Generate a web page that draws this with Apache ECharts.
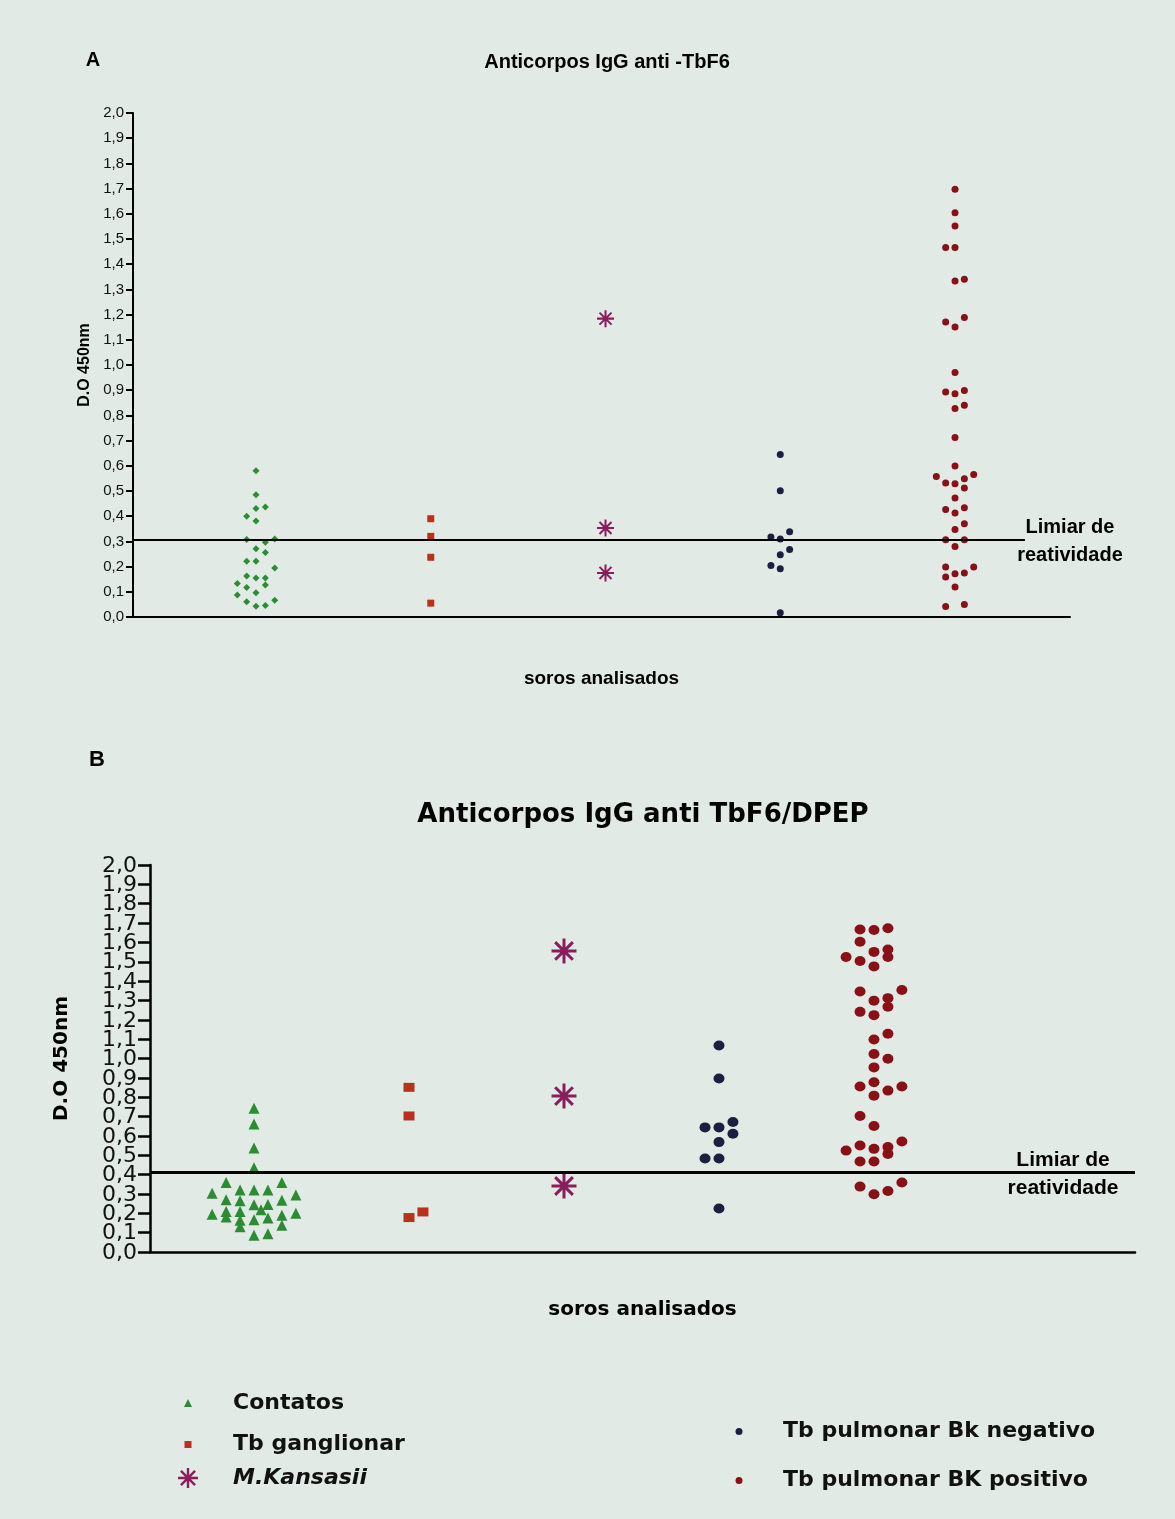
<!DOCTYPE html>
<html><head><meta charset="utf-8">
<script src="https://cdn.jsdelivr.net/npm/echarts@6/dist/echarts.min.js"></script>
<style>html,body{margin:0;padding:0;background:#e2eae6}#c{width:1175px;height:1519px}</style>
</head><body><div id="c"></div>
<script>
// ---- Data ----
const categories = ['Contatos', 'Tb ganglionar', 'M.Kansasii', 'Tb pulmonar Bk negativo', 'Tb pulmonar BK positivo'];
const yTicks = [0, 2.0, 0.1]; // min, max, step
const yTickValuesB = [0,0.1,0.2,0.3,0.4,0.5,0.6,0.7,0.8,0.9,1.0,1.1,1.2,1.3,1.4,1.5,1.6,1.7,1.8,1.9,2.0];
const thresholdA = 0.306;
const thresholdB = 0.405;

// Panel A (IgG anti-TbF6): values and beeswarm column index
const contatosA = [0.58,0.485,0.431,0.437,0.40,0.381,0.308,0.297,0.31,0.271,0.256,0.221,0.221,0.194,0.163,0.155,0.155,0.133,0.117,0.127,0.087,0.096,0.061,0.066,0.043,0.046];
const contatosAcol = [0,0,0,1,-1,0,-1,1,2,0,1,-1,0,2,-1,0,1,-2,-1,1,-2,0,-1,2,0,1];
const ganglionarA = [0.39,0.32,0.237,0.055];
const kansasiiA = [1.184,0.353,0.175];
const negativoA = [0.645,0.501,0.338,0.317,0.31,0.268,0.247,0.204,0.191,0.017];
const negativoAcol = [0,0,1,-1,0,1,0,-1,0,0];
const positivoA = [1.697,1.604,1.552,1.466,1.466,1.333,1.34,1.171,1.151,1.188,0.97,0.893,0.886,0.899,0.827,0.84,0.712,0.599,0.558,0.532,0.529,0.549,0.512,0.565,0.472,0.427,0.413,0.434,0.37,0.347,0.307,0.307,0.28,0.198,0.172,0.159,0.175,0.198,0.119,0.042,0.05];
const positivoAcol = [0,0,0,-1,0,0,1,-1,0,1,0,-1,0,1,0,1,0,0,-2,-1,0,1,1,2,0,-1,0,1,1,0,-1,1,0,-1,0,-1,1,2,0,-1,1];

// Panel B (IgG anti TbF6/DPEP)
const contatosB = [0.743,0.661,0.538,0.435,0.359,0.359,0.32,0.32,0.32,0.303,0.294,0.27,0.265,0.268,0.244,0.245,0.218,0.209,0.209,0.195,0.2,0.181,0.164,0.167,0.176,0.19,0.131,0.138,0.087,0.094];
const contatosBcol = [0,0,0,0,-2,2,-1,0,1,-3,3,-2,-1,2,0,1,0.5,-2,-1,-3,3,-2,-1,0,1,2,-1,2,0,1];
const ganglionarB = [0.851,0.703,0.178,0.207];
const ganglionarBcol = [0,0,0,1];
const kansasiiB = [1.556,0.806,0.341];
const negativoB = [1.067,0.897,0.672,0.644,0.644,0.611,0.568,0.483,0.483,0.225];
const negativoBcol = [0,0,1,-1,0,1,0,-1,0,0];
const positivoB = [1.667,1.664,1.673,1.603,1.551,1.563,1.525,1.525,1.504,1.476,1.346,1.354,1.299,1.312,1.267,1.241,1.224,1.128,1.098,1.023,0.999,0.954,0.877,0.855,0.834,0.855,0.808,0.703,0.651,0.55,0.524,0.533,0.542,0.507,0.571,0.468,0.468,0.338,0.298,0.315,0.359];
const positivoBcol = [-1,0,1,-1,0,1,1,-2,-1,0,-1,2,0,1,1,-1,0,1,0,0,1,0,0,-1,1,2,0,-1,0,-1,-2,0,1,1,2,-1,0,-1,0,1,2];

// ---- Styling ----
const colors = ['#2c8c34', '#b8301e', '#8a1d5c', '#1c2040', '#8a1018'];
const STAR = 'path://M-1.2,-10L1.2,-10L1.2,10L-1.2,10ZM-10,-1.2L10,-1.2L10,1.2L-10,1.2ZM-7.92,-6.22L-6.22,-7.92L7.92,6.22L6.22,7.92ZM-6.22,7.92L-7.92,6.22L6.22,-7.92L7.92,-6.22Z';
const stepA = 0.0535, stepB = 0.09;
const xA = {min: 0.296, max: 5.658};
const xB = {min: 0.329, max: 6.684};

function pts(group, vals, cols, step) {
  return vals.map((v, i) => [group + (cols ? cols[i] : 0) * step, v]);
}
const fmt = v => v.toFixed(1).replace('.', ',');
const FA = 'Liberation Sans';
const FB = 'DejaVu Sans';

const chart = echarts.init(document.getElementById('c'));
function sc(name, xi, data, symbol, size, ci, extra) {
  return Object.assign({
    type: 'scatter', name: name, xAxisIndex: xi, yAxisIndex: xi, data: data,
    symbol: symbol, symbolSize: size, itemStyle: {color: colors[ci], opacity: 1},
    emphasis: {disabled: true}, silent: true, z: 3
  }, extra || {});
}
const lineStyle = {color: '#000', width: 2, type: 'solid'};

// legend item: icon centred at cx, text starting at tx, vertically centred at cy
function leg(name, icon, size, cx, tx, cy, italic) {
  const ts = {fontFamily: FB, fontWeight: 'bold', fontSize: 22, color: '#111', padding: [0, 0, 0, tx - cx - size / 2 - 5]};
  const o = {
    orient: 'vertical', selectedMode: false, padding: 0,
    data: [{name: name, icon: icon}], left: cx - size / 2, top: cy - size / 2 - 4,
    itemWidth: size, itemHeight: size, textStyle: ts
  };
  if (italic) {
    o.formatter = n => '{i|' + n + '}';
    ts.rich = {i: {fontFamily: FB, fontStyle: 'italic', fontWeight: 'bold', fontSize: 22, color: '#111'}};
  }
  return o;
}

chart.setOption({
  backgroundColor: '#e2eae6',
  animation: false,
  grid: [
    {left: 133, top: 113, width: 937, height: 504},
    {left: 150, top: 865, width: 985, height: 387}
  ],
  xAxis: [
    {type: 'value', gridIndex: 0, min: xA.min, max: xA.max, splitLine: {show: false},
     axisTick: {show: false}, axisLabel: {show: false},
     axisLine: {onZero: false, lineStyle: {color: '#000', width: 2}},
     name: 'soros analisados', nameLocation: 'middle', nameGap: 52,
     nameTextStyle: {fontFamily: FA, fontWeight: 'bold', fontSize: 19, color: '#000'}},
    {type: 'value', gridIndex: 1, min: xB.min, max: xB.max, splitLine: {show: false},
     axisTick: {show: false}, axisLabel: {show: false},
     axisLine: {onZero: false, lineStyle: {color: '#000', width: 2.5}},
     name: 'soros analisados', nameLocation: 'middle', nameGap: 48,
     nameTextStyle: {fontFamily: FB, fontWeight: 'bold', fontSize: 20, color: '#000'}}
  ],
  yAxis: [
    {type: 'value', gridIndex: 0, min: yTicks[0], max: yTicks[1], interval: yTicks[2],
     splitLine: {show: false},
     axisLine: {show: true, lineStyle: {color: '#000', width: 2}},
     axisTick: {show: true, length: 7, lineStyle: {color: '#000', width: 2}},
     axisLabel: {formatter: fmt, margin: 9, fontFamily: FA, fontSize: 15, color: '#111', showMinLabel: true, showMaxLabel: true},
     name: 'D.O 450nm', nameLocation: 'middle', nameGap: 20, nameRotate: 90,
     nameTextStyle: {fontFamily: FA, fontWeight: 'bold', fontSize: 16, color: '#000'}},
    {type: 'value', gridIndex: 1, min: yTicks[0], max: yTicks[1], interval: yTicks[2],
     splitLine: {show: false},
     axisLine: {show: true, lineStyle: {color: '#000', width: 2.5}},
     axisTick: {show: true, length: 12, lineStyle: {color: '#000', width: 2.5}},
     axisLabel: {show: false},
     name: 'D.O 450nm', nameLocation: 'middle', nameGap: 78, nameRotate: 90,
     nameTextStyle: {fontFamily: FB, fontWeight: 'bold', fontSize: 20, color: '#000'}}
  ],
  legend: [
    leg(categories[0], 'triangle', 8, 188, 233, 1400),
    leg(categories[1], 'rect', 7, 188, 233, 1441),
    leg(categories[2], STAR, 20, 188, 233, 1481, true),
    leg(categories[3], 'circle', 7, 739, 783, 1428),
    leg(categories[4], 'circle', 7, 739, 783, 1477)
  ],
  series: [
    sc(categories[0], 0, pts(1, contatosA, contatosAcol, stepA), 'diamond', 7, 0, {
      markLine: {silent: true, symbol: 'none', lineStyle: lineStyle, label: {show: false},
        data: [[{coord: [xA.min, thresholdA]}, {coord: [5.40, thresholdA]}]]}
    }),
    sc(categories[1], 0, pts(2, ganglionarA, null, stepA), 'rect', 7, 1),
    sc(categories[2], 0, pts(3, kansasiiA, null, stepA), STAR, 17, 2),
    sc(categories[3], 0, pts(4, negativoA, negativoAcol, stepA), 'circle', 7, 3),
    sc(categories[4], 0, pts(5, positivoA, positivoAcol, stepA), 'circle', 7, 4),
    sc(categories[0], 1, pts(1, contatosB, contatosBcol, stepB), 'triangle', 11, 0, {
      markLine: {silent: true, symbol: 'none', lineStyle: {color: '#000', width: 3, type: 'solid'}, label: {show: false},
        data: [{yAxis: thresholdB}]}
    }),
    sc(categories[1], 1, pts(2, ganglionarB, ganglionarBcol, stepB), 'rect', [11, 9], 1),
    sc(categories[2], 1, pts(3, kansasiiB, null, stepB), STAR, 25, 2),
    sc(categories[3], 1, pts(4, negativoB, negativoBcol, stepB), 'circle', [11, 10], 3),
    sc(categories[4], 1, pts(5, positivoB, positivoBcol, stepB), 'circle', [11, 10], 4),
    // tick labels of panel B (tightly packed, as in the original), placed through the axis scale
    {type: 'custom', name: 'yLabelsB', xAxisIndex: 1, yAxisIndex: 1, clip: false, silent: true, z: 5,
     data: yTickValuesB.map(v => [xB.min, v]),
     renderItem: (params, api) => {
       const p = api.coord([api.value(0), api.value(1)]);
       return {type: 'text', x: p[0] - 13, y: p[1] + 1,
         style: {text: fmt(api.value(1)), fontFamily: FB, fontSize: 22, fill: '#111', align: 'right', verticalAlign: 'middle'}};
     }}
  ],
  graphic: [
    {type: 'text', x: 93, y: 60, style: {text: 'A', fontFamily: FA, fontWeight: 'bold', fontSize: 20, fill: '#000', align: 'center', verticalAlign: 'middle'}},
    {type: 'text', x: 607, y: 62, style: {text: 'Anticorpos IgG anti -TbF6', fontFamily: FA, fontWeight: 'bold', fontSize: 20, fill: '#000', align: 'center', verticalAlign: 'middle'}},
    {type: 'text', x: 1070, y: 541, style: {text: 'Limiar de\nreatividade', fontFamily: FA, fontWeight: 'bold', fontSize: 20, lineHeight: 28, fill: '#000', align: 'center', verticalAlign: 'middle'}},
    {type: 'text', x: 97, y: 760, style: {text: 'B', fontFamily: FA, fontWeight: 'bold', fontSize: 22, fill: '#000', align: 'center', verticalAlign: 'middle'}},
    {type: 'text', x: 643, y: 815, style: {text: 'Anticorpos IgG anti TbF6/DPEP', fontFamily: FB, fontWeight: 'bold', fontSize: 26, fill: '#000', align: 'center', verticalAlign: 'middle'}},
    {type: 'text', x: 1063, y: 1174, z: 10, style: {text: 'Limiar de\nreatividade', fontFamily: FA, fontWeight: 'bold', fontSize: 21, lineHeight: 28, fill: '#000', align: 'center', verticalAlign: 'middle'}}
  ]
});
</script></body></html>
